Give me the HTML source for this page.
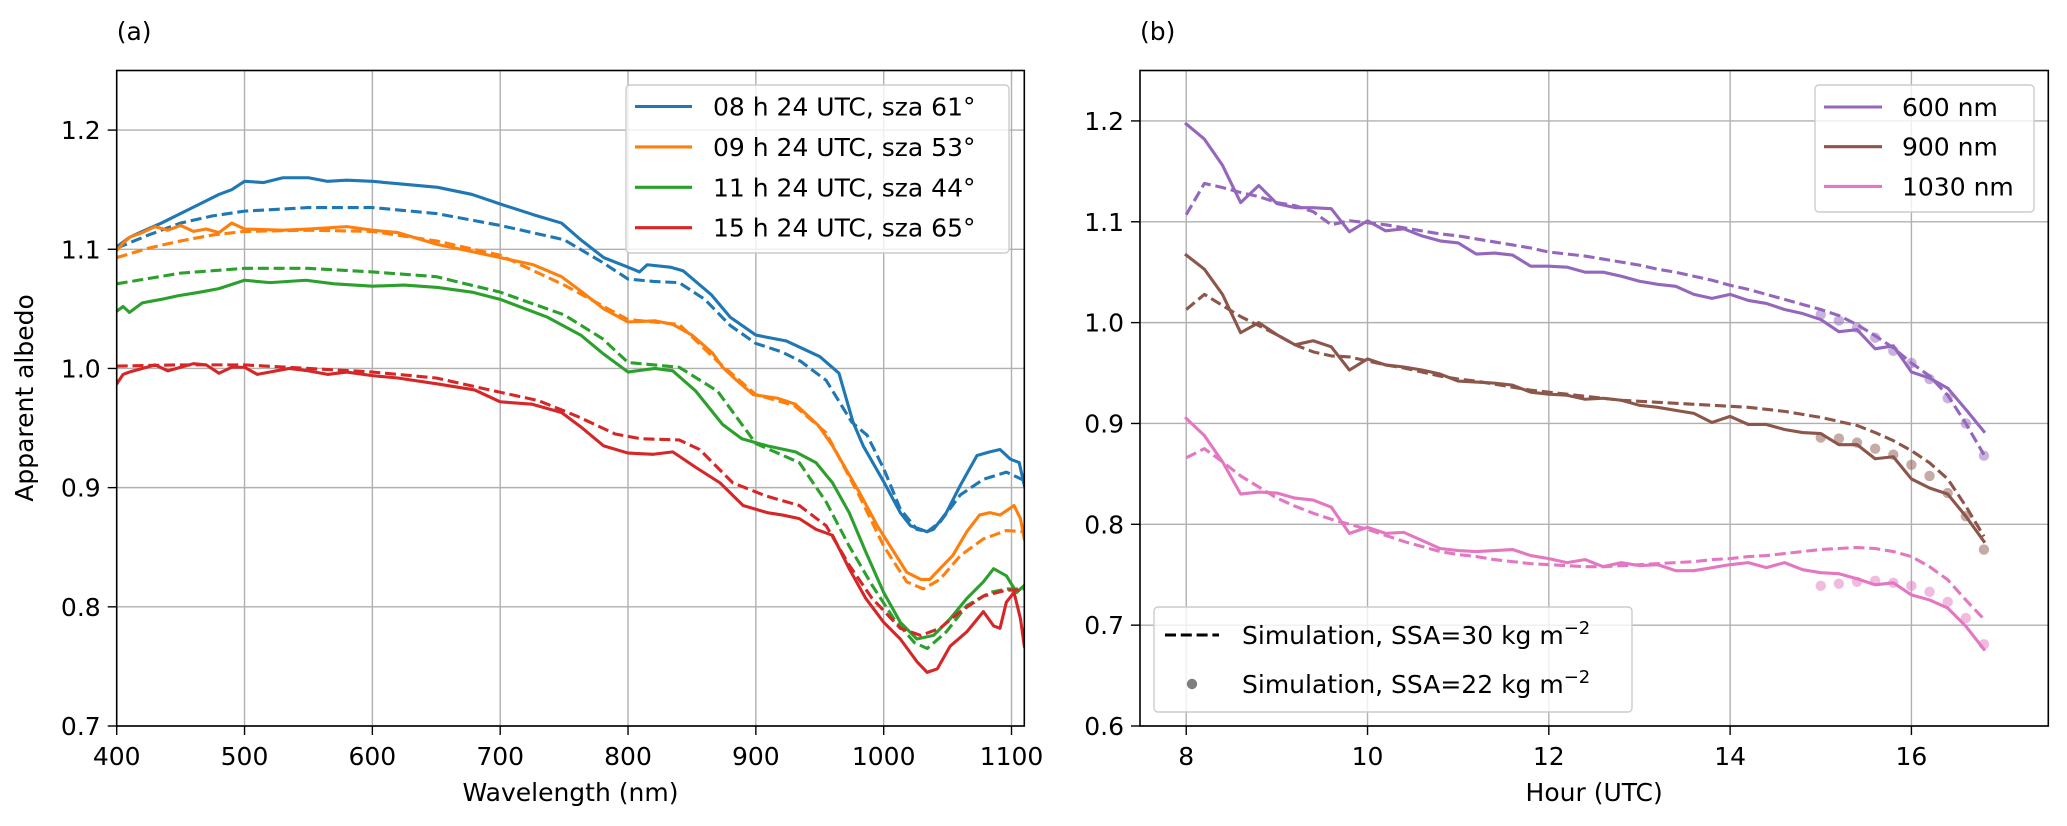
<!DOCTYPE html>
<html><head><meta charset="utf-8"><style>
html,body{margin:0;padding:0;background:#fff;}
svg{display:block;font-family:"DejaVu Sans","Liberation Sans",sans-serif;}
</style></head><body>
<svg id="fig" width="2067" height="826" viewBox="0 0 2067 826" xmlns="http://www.w3.org/2000/svg">
<rect width="2067" height="826" fill="#fff"/>
<g id="pa"></g>
<g id="pb"></g>
</svg>
<script>
// ---------- Panel (a) data ----------
const aXTicks=[400,500,600,700,800,900,1000,1100];
const aYTicks=[0.7,0.8,0.9,1.0,1.1,1.2];
const aLabels=["08 h 24 UTC, sza 61°","09 h 24 UTC, sza 53°","11 h 24 UTC, sza 44°","15 h 24 UTC, sza 65°"];
const aColors=["#1f77b4","#ff7f0e","#2ca02c","#d62728"];
const blueWl=[400,410,420,435,450,465,480,490,500,515,530,550,565,580,600,620,651,678,700,726,748,763,781,800,809,815,833,843,865,880,900,924,950,965,976,984,1000,1013,1021,1034,1039,1049,1060,1073,1083,1091,1099,1106,1110];
const blueObs=[1.102,1.110,1.115,1.122,1.130,1.138,1.146,1.150,1.157,1.156,1.160,1.160,1.157,1.158,1.157,1.155,1.152,1.146,1.138,1.129,1.122,1.108,1.093,1.085,1.081,1.087,1.085,1.082,1.062,1.043,1.028,1.023,1.010,0.996,0.955,0.935,0.905,0.879,0.868,0.863,0.865,0.879,0.902,0.927,0.930,0.932,0.924,0.921,0.902];
const blueSimWl=[400,425,450,475,500,550,600,650,700,750,780,800,820,840,860,880,900,920,935,955,975,987,1000,1013,1026,1034,1044,1060,1078,1096,1110];
const blueSim=[1.101,1.112,1.122,1.128,1.132,1.135,1.135,1.130,1.120,1.108,1.089,1.075,1.073,1.072,1.058,1.036,1.021,1.014,1.006,0.990,0.955,0.944,0.916,0.882,0.865,0.863,0.871,0.894,0.907,0.913,0.906];
const orangeWl=[400,405,410,420,430,440,450,460,470,480,490,500,530,550,580,600,620,651,678,700,726,748,763,781,800,821,835,850,866,874,885,898,917,931,949,960,981,995,1008,1018,1029,1036,1044,1054,1065,1075,1083,1091,1102,1107,1110];
const orangeObs=[1.099,1.105,1.110,1.114,1.119,1.116,1.120,1.115,1.117,1.114,1.122,1.117,1.116,1.117,1.119,1.116,1.114,1.104,1.098,1.093,1.087,1.077,1.065,1.050,1.039,1.040,1.037,1.028,1.013,1.001,0.990,0.978,0.975,0.970,0.952,0.935,0.896,0.868,0.846,0.829,0.823,0.823,0.832,0.843,0.863,0.877,0.879,0.877,0.885,0.874,0.857];
const orangeSimWl=[400,425,450,475,500,550,600,650,700,750,800,840,870,900,930,955,981,1000,1018,1031,1044,1060,1078,1096,1110];
const orangeSim=[1.093,1.101,1.107,1.112,1.115,1.116,1.115,1.107,1.095,1.070,1.041,1.037,1.006,0.978,0.969,0.946,0.893,0.851,0.821,0.815,0.823,0.843,0.857,0.864,0.863];
const greenWl=[400,405,410,420,435,448,465,480,500,520,548,570,600,625,651,678,700,737,763,781,800,821,835,853,874,889,909,931,947,960,973,986,1000,1013,1026,1039,1052,1065,1078,1086,1096,1104,1110];
const greenObs=[1.048,1.052,1.047,1.055,1.058,1.061,1.064,1.067,1.074,1.072,1.074,1.071,1.069,1.070,1.068,1.064,1.058,1.043,1.028,1.012,0.997,1.000,0.998,0.981,0.953,0.941,0.935,0.930,0.921,0.904,0.879,0.846,0.812,0.787,0.773,0.776,0.790,0.807,0.821,0.832,0.826,0.812,0.818];
const greenSimWl=[400,450,500,550,600,650,700,750,780,800,840,870,900,934,955,973,991,1008,1024,1034,1049,1065,1083,1096,1110];
const greenSim=[1.071,1.080,1.084,1.084,1.081,1.077,1.064,1.045,1.025,1.005,1.001,0.981,0.937,0.921,0.888,0.851,0.818,0.790,0.770,0.765,0.779,0.801,0.812,0.815,0.815];
const redWl=[400,405,410,420,430,440,450,460,470,480,490,500,510,520,535,550,565,580,600,620,651,680,700,725,748,763,781,800,820,835,853,872,890,909,921,934,947,960,973,986,1000,1013,1026,1034,1042,1052,1065,1078,1086,1091,1096,1102,1107,1110];
const redObs=[0.987,0.995,0.997,1.000,1.003,0.998,1.001,1.004,1.003,0.996,1.001,1.001,0.995,0.997,1.000,0.998,0.995,0.997,0.994,0.992,0.987,0.982,0.972,0.970,0.963,0.951,0.935,0.929,0.928,0.930,0.917,0.904,0.885,0.879,0.877,0.874,0.865,0.860,0.832,0.807,0.787,0.773,0.754,0.745,0.748,0.767,0.779,0.796,0.784,0.782,0.804,0.812,0.790,0.767];
const redSimWl=[400,450,500,550,600,650,700,730,760,790,810,840,856,882,908,934,955,973,991,1013,1029,1044,1060,1078,1096,1110];
const redSim=[1.002,1.003,1.003,1.000,0.997,0.992,0.980,0.973,0.960,0.945,0.941,0.940,0.932,0.904,0.893,0.885,0.868,0.835,0.807,0.782,0.776,0.782,0.796,0.809,0.814,0.814];

// ---------- Panel (b) data ----------
const bXTicks=[8,10,12,14,16];
const bYTicks=[0.6,0.7,0.8,0.9,1.0,1.1,1.2];
const hours=[8.0,8.2,8.4,8.6,8.8,9.0,9.2,9.4,9.6,9.8,10.0,10.2,10.4,10.6,10.8,11.0,11.2,11.4,11.6,11.8,12.0,12.2,12.4,12.6,12.8,13.0,13.2,13.4,13.6,13.8,14.0,14.2,14.4,14.6,14.8,15.0,15.2,15.4,15.6,15.8,16.0,16.2,16.4,16.6,16.8];
const dotHours=[15.0,15.2,15.4,15.6,15.8,16.0,16.2,16.4,16.6,16.8];
const bLabels=["600 nm","900 nm","1030 nm"];
const bColors=["#9467bd","#8c564b","#e377c2"];
const obs600=[1.197,1.182,1.156,1.119,1.136,1.118,1.114,1.114,1.113,1.090,1.101,1.091,1.093,1.086,1.081,1.079,1.068,1.069,1.067,1.056,1.056,1.055,1.050,1.050,1.046,1.041,1.038,1.036,1.028,1.024,1.028,1.022,1.019,1.013,1.009,1.003,0.991,0.993,0.974,0.977,0.951,0.945,0.935,0.914,0.892];
const sim600=[1.107,1.138,1.134,1.129,1.125,1.119,1.116,1.110,1.097,1.101,1.099,1.097,1.094,1.091,1.088,1.086,1.083,1.080,1.077,1.074,1.070,1.068,1.066,1.063,1.060,1.057,1.053,1.050,1.046,1.042,1.037,1.033,1.028,1.023,1.018,1.013,1.007,0.998,0.987,0.975,0.960,0.947,0.928,0.900,0.869];
const obs900=[1.067,1.053,1.028,0.990,1.000,0.988,0.978,0.982,0.976,0.953,0.964,0.958,0.956,0.953,0.949,0.942,0.941,0.940,0.938,0.931,0.929,0.928,0.924,0.925,0.923,0.918,0.916,0.913,0.910,0.901,0.907,0.899,0.899,0.894,0.891,0.890,0.879,0.879,0.865,0.867,0.845,0.836,0.830,0.808,0.783];
const sim900=[1.013,1.028,1.017,1.006,0.997,0.988,0.978,0.971,0.967,0.966,0.962,0.958,0.955,0.951,0.947,0.944,0.942,0.939,0.936,0.933,0.931,0.929,0.927,0.925,0.923,0.922,0.921,0.920,0.919,0.918,0.917,0.916,0.914,0.912,0.909,0.906,0.902,0.898,0.891,0.883,0.873,0.861,0.845,0.818,0.788];
const obs1030=[0.905,0.888,0.862,0.830,0.832,0.831,0.826,0.824,0.817,0.791,0.797,0.791,0.792,0.784,0.776,0.774,0.773,0.774,0.775,0.769,0.766,0.762,0.765,0.758,0.762,0.759,0.760,0.754,0.754,0.757,0.760,0.762,0.757,0.762,0.755,0.752,0.751,0.746,0.740,0.742,0.730,0.725,0.717,0.699,0.676];
const sim1030=[0.866,0.875,0.862,0.848,0.837,0.826,0.818,0.811,0.805,0.800,0.795,0.789,0.783,0.778,0.773,0.770,0.768,0.765,0.763,0.761,0.760,0.759,0.758,0.758,0.759,0.760,0.761,0.762,0.763,0.765,0.766,0.768,0.769,0.771,0.773,0.775,0.776,0.777,0.776,0.773,0.768,0.758,0.745,0.725,0.706];
const dots600=[1.008,1.002,0.995,0.985,0.972,0.960,0.944,0.925,0.900,0.868];
const dots900=[0.886,0.885,0.881,0.875,0.869,0.859,0.848,0.831,0.808,0.775];
const dots1030=[0.739,0.741,0.743,0.744,0.742,0.739,0.733,0.723,0.707,0.681];

const NS="http://www.w3.org/2000/svg";
function mk(parent,tag,attrs){const e=document.createElementNS(NS,tag);for(const k in attrs)e.setAttribute(k,attrs[k]);parent.appendChild(e);return e;}
function lin(d0,d1,r0,r1){return v=>r0+(v-d0)*(r1-r0)/(d1-d0);}

const LW=3.1;
const A={x0:116.7,x1:1024.3,y0:70.5,y1:726};
const B={x0:1140,x1:2048.3,y0:70.5,y1:726};
const ax=lin(400,1110,A.x0,A.x1), ay=lin(0.7,1.25,A.y1,A.y0);
const bx=lin(7.49,17.51,B.x0,B.x1), by=lin(0.6,1.25,B.y1,B.y0);
const pa=document.getElementById('pa'), pb=document.getElementById('pb');

function frame(g,R,xt,yt,fx,fy,xfmt,yfmt,xlabel,panelLabel,ylabel){
  const grid=mk(g,'g',{});
  
  
  xt.forEach(t=>{const x=fx(t);mk(grid,'line',{x1:x,x2:x,y1:R.y0,y2:R.y1,stroke:'#b0b0b0','stroke-width':1.4});});
  yt.forEach(t=>{const y=fy(t);mk(grid,'line',{x1:R.x0,x2:R.x1,y1:y,y2:y,stroke:'#b0b0b0','stroke-width':1.4});});
  const xa=mk(g,'g',{});
  
  
  xt.forEach(t=>{const x=fx(t);mk(xa,'line',{x1:x,x2:x,y1:R.y1,y2:R.y1+9,stroke:'#000','stroke-width':1.4});
    const tx=mk(xa,'text',{x:x,y:765,'text-anchor':'middle','font-size':25,fill:'#000'});tx.textContent=xfmt(t);
    
    });
  const ya=mk(g,'g',{});
  
  
  yt.forEach(t=>{const y=fy(t);mk(ya,'line',{x1:R.x0-9,x2:R.x0,y1:y,y2:y,stroke:'#000','stroke-width':1.4});
    const tx=mk(ya,'text',{x:R.x0-16,y:y+9,'text-anchor':'end','font-size':25,fill:'#000'});tx.textContent=yfmt(t);
    
    });
  const xl=mk(g,'text',{x:(R.x0+R.x1)/2,y:801,'text-anchor':'middle','font-size':25,fill:'#000'});xl.textContent=xlabel;
  
  
  const pl=mk(g,'text',{x:R.x0,y:40,'font-size':25,fill:'#000'});pl.textContent=panelLabel;
  
  
  if(ylabel){const yl=mk(g,'text',{x:0,y:0,'text-anchor':'middle','font-size':25,fill:'#000',transform:'translate(33,398) rotate(-90)'});yl.textContent=ylabel;
    
    }
}
function spines(g,R){const s=mk(g,'rect',{x:R.x0,y:R.y0,width:R.x1-R.x0,height:R.y1-R.y0,fill:'none',stroke:'#000','stroke-width':1.6});
  
  }
function series(g,xs,ys,fx,fy,color,dashed,name,R){
  const d=xs.map((x,i)=>(i?'L':'M')+fx(x).toFixed(2)+' '+fy(ys[i]).toFixed(2)).join(' ');
  const p=mk(g,'path',{d:d,fill:'none',stroke:color,'stroke-width':LW,'stroke-linejoin':'round','stroke-linecap':dashed?'butt':'square','clip-path':'url(#'+R+')'});
  if(dashed)p.setAttribute('stroke-dasharray','11 4.8');
  
  
}
const defs=mk(document.getElementById('fig'),'defs',{});
const ca=mk(defs,'clipPath',{id:'clipA'});mk(ca,'rect',{x:A.x0,y:A.y0,width:A.x1-A.x0,height:A.y1-A.y0});
const cb=mk(defs,'clipPath',{id:'clipB'});mk(cb,'rect',{x:B.x0,y:B.y0,width:B.x1-B.x0,height:B.y1-B.y0});

frame(pa,A,aXTicks,aYTicks,ax,ay,t=>String(t),t=>t.toFixed(1),'Wavelength (nm)','(a)','Apparent albedo');
const aObs=[[blueWl,blueObs],[orangeWl,orangeObs],[greenWl,greenObs],[redWl,redObs]];
const aSim=[[blueSimWl,blueSim],[orangeSimWl,orangeSim],[greenSimWl,greenSim],[redSimWl,redSim]];
const aNames=['08h','09h','11h','15h'];
for(let i=0;i<4;i++){series(pa,aObs[i][0],aObs[i][1],ax,ay,aColors[i],false,'measured-'+aNames[i]+'-line','clipA');
  series(pa,aSim[i][0],aSim[i][1],ax,ay,aColors[i],true,'simulated-'+aNames[i]+'-line','clipA');}
spines(pa,A);
const lga=mk(pa,'g',{});


mk(lga,'rect',{x:626,y:85,width:383,height:168,rx:4,fill:'#fff','fill-opacity':0.8,stroke:'#cccccc','stroke-width':1.4});
aLabels.forEach((lab,i)=>{const y=106.5+i*40.4;
  const e=mk(lga,'g',{});
  
  
  mk(e,'line',{x1:635,x2:692,y1:y,y2:y,stroke:aColors[i],'stroke-width':LW});
  const t=mk(e,'text',{x:713,y:y+9,'font-size':25,fill:'#000'});t.textContent=lab;});

frame(pb,B,bXTicks,bYTicks,bx,by,t=>String(t),t=>t.toFixed(1),'Hour (UTC)','(b)',null);
const bObs=[obs600,obs900,obs1030], bSim=[sim600,sim900,sim1030], bDots=[dots600,dots900,dots1030];
const bNames=['600nm','900nm','1030nm'];
for(let i=0;i<3;i++){
  const dg=mk(pb,'g',{});
  
  
  bDots[i].forEach((v,j)=>{const c=mk(dg,'circle',{cx:bx(dotHours[j]),cy:by(v),r:5.2,fill:bColors[i],'fill-opacity':0.5});
    
    });
}
for(let i=0;i<3;i++){series(pb,hours,bObs[i],bx,by,bColors[i],false,'measured-'+bNames[i]+'-line','clipB');
  series(pb,hours,bSim[i],bx,by,bColors[i],true,'ssa30-'+bNames[i]+'-line','clipB');}
spines(pb,B);
const lgb=mk(pb,'g',{});


mk(lgb,'rect',{x:1815,y:85,width:219,height:127,rx:4,fill:'#fff','fill-opacity':0.8,stroke:'#cccccc','stroke-width':1.4});
bLabels.forEach((lab,i)=>{const y=107+i*39.7;
  const e=mk(lgb,'g',{});
  
  
  mk(e,'line',{x1:1824,x2:1882,y1:y,y2:y,stroke:bColors[i],'stroke-width':LW});
  const t=mk(e,'text',{x:1902,y:y+9,'font-size':25,fill:'#000'});t.textContent=lab;});
const lgs=mk(pb,'g',{});


mk(lgs,'rect',{x:1154,y:607,width:478,height:105,rx:4,fill:'#fff','fill-opacity':0.8,stroke:'#cccccc','stroke-width':1.4});
const e1=mk(lgs,'g',{});


mk(e1,'line',{x1:1165,x2:1219,y1:635,y2:635,stroke:'#000','stroke-width':LW,'stroke-dasharray':'11 4.8'});
const t1=mk(e1,'text',{x:1242,y:644,'font-size':25,fill:'#000'});
t1.innerHTML='Simulation, SSA=30 kg m<tspan dy="-10" font-size="18">−2</tspan>';
const e2=mk(lgs,'g',{});


mk(e2,'circle',{cx:1192,cy:684,r:5.2,fill:'#000','fill-opacity':0.5});
const t2=mk(e2,'text',{x:1242,y:693,'font-size':25,fill:'#000'});
t2.innerHTML='Simulation, SSA=22 kg m<tspan dy="-10" font-size="18">−2</tspan>';
</script>
</body></html>
